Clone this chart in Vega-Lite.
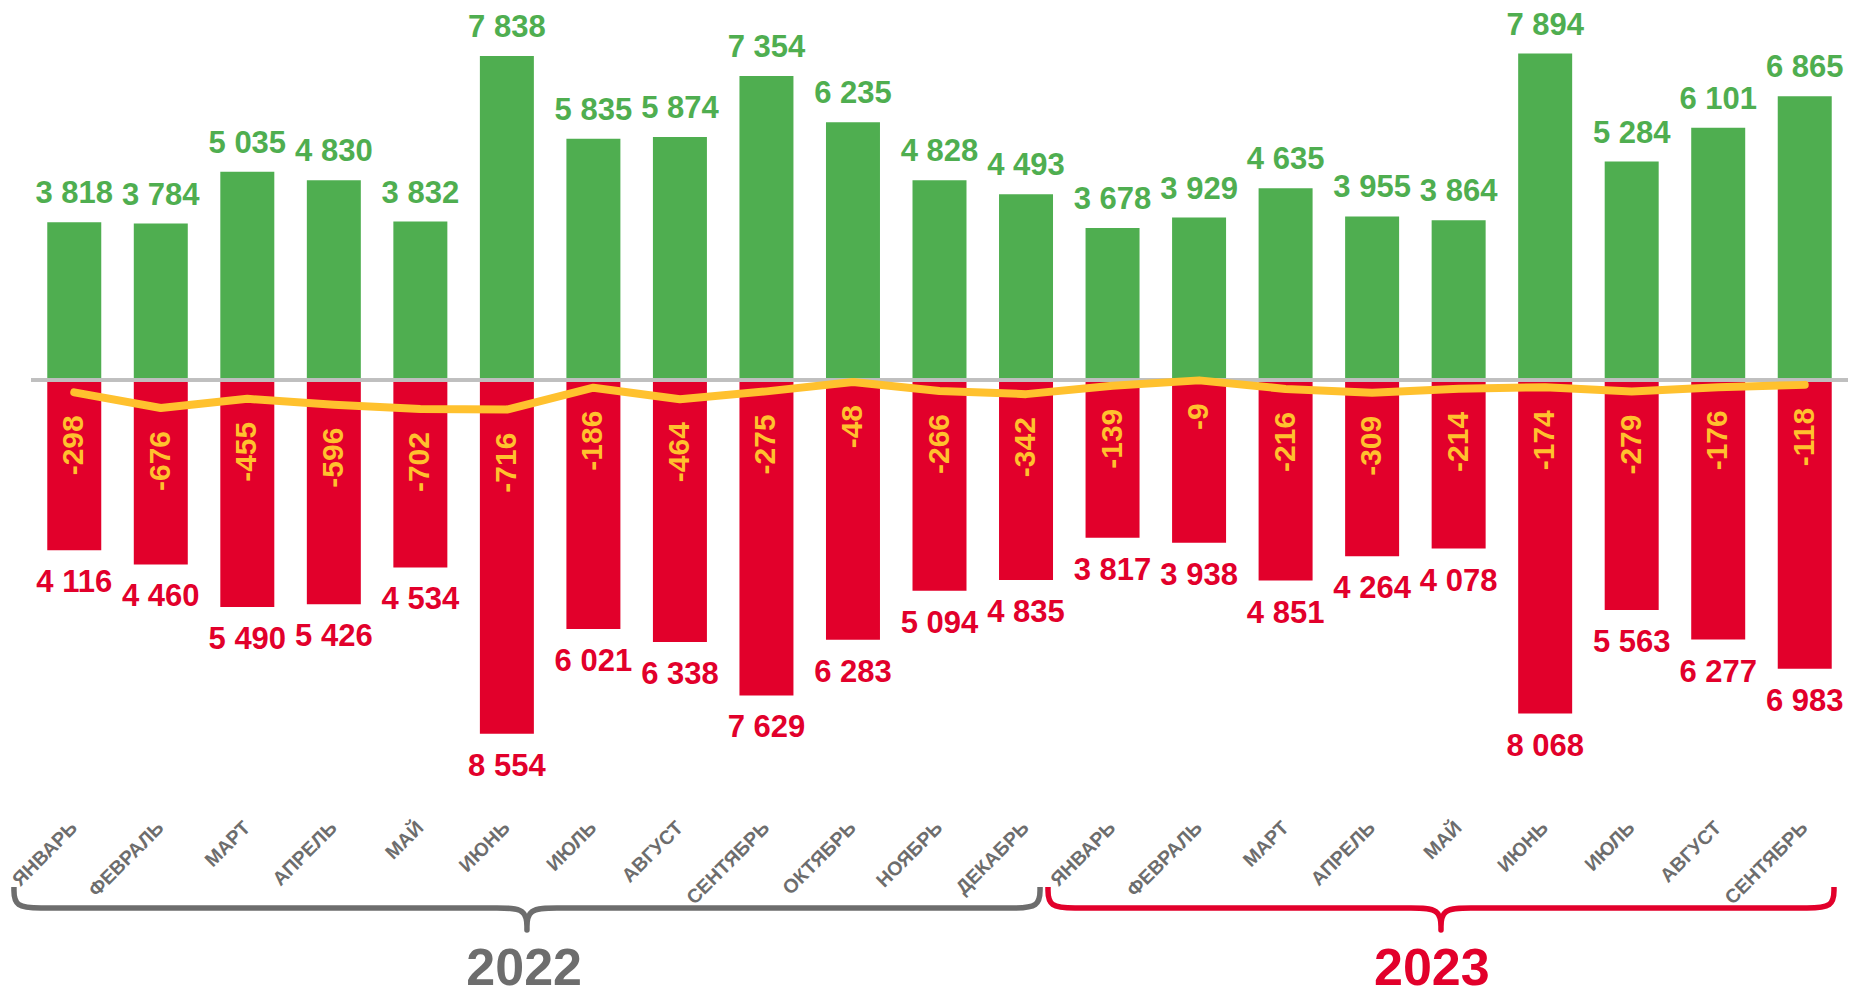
{
  "$schema": "https://vega.github.io/schema/vega-lite/v6.json",
  "width": 1817,
  "height": 992,
  "padding": {"left": 31, "right": 2, "top": 0, "bottom": 0},
  "autosize": {"type": "none"},
  "background": "white",
  "config": {
    "view": {"stroke": null},
    "font": "Liberation Sans",
    "locale": {"number": {"decimal": ",", "thousands": "\u00a0", "grouping": [3], "currency": ["", ""], "minus": "-"}}
  },
  "datasets": {
    "months": [
      {"m": "2022-01", "month": "ЯНВАРЬ", "inc": 3818, "out": 4116, "net": -298},
      {"m": "2022-02", "month": "ФЕВРАЛЬ", "inc": 3784, "out": 4460, "net": -676},
      {"m": "2022-03", "month": "МАРТ", "inc": 5035, "out": 5490, "net": -455},
      {"m": "2022-04", "month": "АПРЕЛЬ", "inc": 4830, "out": 5426, "net": -596},
      {"m": "2022-05", "month": "МАЙ", "inc": 3832, "out": 4534, "net": -702},
      {"m": "2022-06", "month": "ИЮНЬ", "inc": 7838, "out": 8554, "net": -716},
      {"m": "2022-07", "month": "ИЮЛЬ", "inc": 5835, "out": 6021, "net": -186},
      {"m": "2022-08", "month": "АВГУСТ", "inc": 5874, "out": 6338, "net": -464},
      {"m": "2022-09", "month": "СЕНТЯБРЬ", "inc": 7354, "out": 7629, "net": -275},
      {"m": "2022-10", "month": "ОКТЯБРЬ", "inc": 6235, "out": 6283, "net": -48},
      {"m": "2022-11", "month": "НОЯБРЬ", "inc": 4828, "out": 5094, "net": -266},
      {"m": "2022-12", "month": "ДЕКАБРЬ", "inc": 4493, "out": 4835, "net": -342},
      {"m": "2023-01", "month": "ЯНВАРЬ", "inc": 3678, "out": 3817, "net": -139},
      {"m": "2023-02", "month": "ФЕВРАЛЬ", "inc": 3929, "out": 3938, "net": -9},
      {"m": "2023-03", "month": "МАРТ", "inc": 4635, "out": 4851, "net": -216},
      {"m": "2023-04", "month": "АПРЕЛЬ", "inc": 3955, "out": 4264, "net": -309},
      {"m": "2023-05", "month": "МАЙ", "inc": 3864, "out": 4078, "net": -214},
      {"m": "2023-06", "month": "ИЮНЬ", "inc": 7894, "out": 8068, "net": -174},
      {"m": "2023-07", "month": "ИЮЛЬ", "inc": 5284, "out": 5563, "net": -279},
      {"m": "2023-08", "month": "АВГУСТ", "inc": 6101, "out": 6277, "net": -176},
      {"m": "2023-09", "month": "СЕНТЯБРЬ", "inc": 6865, "out": 6983, "net": -118}
    ],
    "brace": [
      {"year": "2022", "i": 0, "u": -0.697, "d": 0},
      {"year": "2022", "i": 1, "u": -0.697, "d": 1},
      {"year": "2022", "i": 2, "u": -0.361, "d": 1},
      {"year": "2022", "i": 3, "u": -0.165, "d": 1},
      {"year": "2022", "i": 4, "u": 4.539, "d": 1},
      {"year": "2022", "i": 5, "u": 4.886, "d": 1},
      {"year": "2022", "i": 6, "u": 5.232, "d": 1},
      {"year": "2022", "i": 7, "u": 5.232, "d": 2.05},
      {"year": "2022", "i": 8, "u": 5.232, "d": 2.05},
      {"year": "2022", "i": 9, "u": 5.232, "d": 2.05},
      {"year": "2022", "i": 10, "u": 5.232, "d": 1},
      {"year": "2022", "i": 11, "u": 5.579, "d": 1},
      {"year": "2022", "i": 12, "u": 5.925, "d": 1},
      {"year": "2022", "i": 13, "u": 10.630, "d": 1},
      {"year": "2022", "i": 14, "u": 10.826, "d": 1},
      {"year": "2022", "i": 15, "u": 11.162, "d": 1},
      {"year": "2022", "i": 16, "u": 11.162, "d": 0},
      {"year": "2023", "i": 0, "u": 11.254, "d": 0},
      {"year": "2023", "i": 1, "u": 11.254, "d": 1},
      {"year": "2023", "i": 2, "u": 11.590, "d": 1},
      {"year": "2023", "i": 3, "u": 11.786, "d": 1},
      {"year": "2023", "i": 4, "u": 15.103, "d": 1},
      {"year": "2023", "i": 5, "u": 15.449, "d": 1},
      {"year": "2023", "i": 6, "u": 15.796, "d": 1},
      {"year": "2023", "i": 7, "u": 15.796, "d": 2.05},
      {"year": "2023", "i": 8, "u": 15.796, "d": 2.05},
      {"year": "2023", "i": 9, "u": 15.796, "d": 2.05},
      {"year": "2023", "i": 10, "u": 15.796, "d": 1},
      {"year": "2023", "i": 11, "u": 16.143, "d": 1},
      {"year": "2023", "i": 12, "u": 16.489, "d": 1},
      {"year": "2023", "i": 13, "u": 19.806, "d": 1},
      {"year": "2023", "i": 14, "u": 20.002, "d": 1},
      {"year": "2023", "i": 15, "u": 20.338, "d": 1},
      {"year": "2023", "i": 16, "u": 20.338, "d": 0}
    ],
    "years": [
      {"year": "2022", "mid": 5.20},
      {"year": "2023", "mid": 15.69}
    ]
  },
  "resolve": {"scale": {"x": "independent", "y": "independent", "color": "independent"}},
  "layer": [
    {
      "data": {"name": "months"},
      "mark": {"type": "bar", "color": "#4FAE50"},
      "encoding": {
        "x": {"field": "m", "type": "ordinal", "axis": null, "scale": {"paddingInner": 0.376, "paddingOuter": 0.188}},
        "y": {"field": "inc", "type": "quantitative", "axis": null, "scale": {"domain": [-14801, 9190], "nice": false, "zero": false}},
        "y2": {"datum": 0}
      }
    },
    {
      "data": {"name": "months"},
      "mark": {"type": "bar", "color": "#E2002B"},
      "encoding": {
        "x": {"field": "m", "type": "ordinal", "axis": null, "scale": {"paddingInner": 0.376, "paddingOuter": 0.188}},
        "y": {"field": "out", "type": "quantitative", "axis": null, "scale": {"domain": [-9190, 14801], "reverse": true, "nice": false, "zero": false}},
        "y2": {"datum": 0}
      }
    },
    {
      "data": {"name": "months"},
      "mark": {"type": "rule", "color": "#BFBFBF", "strokeWidth": 2.5},
      "encoding": {
        "y": {"datum": 0, "type": "quantitative", "axis": null, "scale": {"domain": [-14801, 9190], "nice": false, "zero": false}}
      }
    },
    {
      "data": {"name": "months"},
      "mark": {"type": "line", "color": "#FFC12E", "strokeWidth": 8, "strokeCap": "round", "strokeJoin": "round"},
      "encoding": {
        "x": {"field": "m", "type": "ordinal", "axis": null, "scale": {"paddingInner": 0.376, "paddingOuter": 0.188}},
        "y": {"field": "net", "type": "quantitative", "axis": null, "scale": {"domain": [-14801, 9190], "nice": false, "zero": false}}
      }
    },
    {
      "data": {"name": "months"},
      "mark": {"type": "text", "color": "#FFC12E", "fontSize": 30, "fontWeight": "bold", "angle": 270, "align": "right", "baseline": "middle", "dx": -23},
      "encoding": {
        "x": {"field": "m", "type": "ordinal", "axis": null, "scale": {"paddingInner": 0.376, "paddingOuter": 0.188}},
        "y": {"field": "net", "type": "quantitative", "axis": null, "scale": {"domain": [-14801, 9190], "nice": false, "zero": false}},
        "text": {"field": "net", "type": "quantitative", "format": "d"}
      }
    },
    {
      "data": {"name": "months"},
      "mark": {"type": "text", "color": "#4FAE50", "fontSize": 31, "fontWeight": "bold", "align": "center", "baseline": "alphabetic", "dy": -19},
      "encoding": {
        "x": {"field": "m", "type": "ordinal", "axis": null, "scale": {"paddingInner": 0.376, "paddingOuter": 0.188}},
        "y": {"field": "inc", "type": "quantitative", "axis": null, "scale": {"domain": [-14801, 9190], "nice": false, "zero": false}},
        "text": {"field": "inc", "type": "quantitative", "format": ",d"}
      }
    },
    {
      "data": {"name": "months"},
      "mark": {"type": "text", "color": "#E2002B", "fontSize": 31, "fontWeight": "bold", "align": "center", "baseline": "top", "dy": 18},
      "encoding": {
        "x": {"field": "m", "type": "ordinal", "axis": null, "scale": {"paddingInner": 0.376, "paddingOuter": 0.188}},
        "y": {"field": "out", "type": "quantitative", "axis": null, "scale": {"domain": [-9190, 14801], "reverse": true, "nice": false, "zero": false}},
        "text": {"field": "out", "type": "quantitative", "format": ",d"}
      }
    },
    {
      "data": {"name": "months"},
      "mark": {"type": "text", "color": "#6D6D6D", "fontSize": 19.5, "fontWeight": "bold", "angle": 315, "align": "right", "baseline": "middle"},
      "encoding": {
        "x": {"field": "m", "type": "ordinal", "axis": null, "scale": {"paddingInner": 0.376, "paddingOuter": 0.188}},
        "y": {"datum": -10760, "type": "quantitative", "axis": null, "scale": {"domain": [-14801, 9190], "nice": false, "zero": false}},
        "text": {"field": "month", "type": "nominal"}
      }
    },
    {
      "data": {"name": "brace"},
      "mark": {"type": "line", "interpolate": "basis", "strokeWidth": 5.5, "strokeCap": "butt", "strokeJoin": "round"},
      "encoding": {
        "x": {"field": "u", "type": "quantitative", "axis": null, "scale": {"domain": [-0.5, 20.5], "nice": false, "zero": false}},
        "y": {"field": "d", "type": "quantitative", "axis": null, "scale": {"domain": [-42.238, 5.0], "reverse": true, "nice": false, "zero": false}},
        "color": {"field": "year", "type": "nominal", "legend": null, "scale": {"domain": ["2022", "2023"], "range": ["#6D6D6D", "#E2002B"]}},
        "order": {"field": "i", "type": "quantitative"}
      }
    },
    {
      "data": {"name": "years"},
      "mark": {"type": "text", "fontSize": 52, "fontWeight": "bold", "align": "center", "baseline": "alphabetic"},
      "encoding": {
        "x": {"field": "mid", "type": "quantitative", "axis": null, "scale": {"domain": [-0.5, 20.5], "nice": false, "zero": false}},
        "y": {"datum": 4.67, "type": "quantitative", "axis": null, "scale": {"domain": [-42.238, 5.0], "reverse": true, "nice": false, "zero": false}},
        "color": {"field": "year", "type": "nominal", "legend": null, "scale": {"domain": ["2022", "2023"], "range": ["#6D6D6D", "#E2002B"]}},
        "text": {"field": "year", "type": "nominal"}
      }
    }
  ]
}
